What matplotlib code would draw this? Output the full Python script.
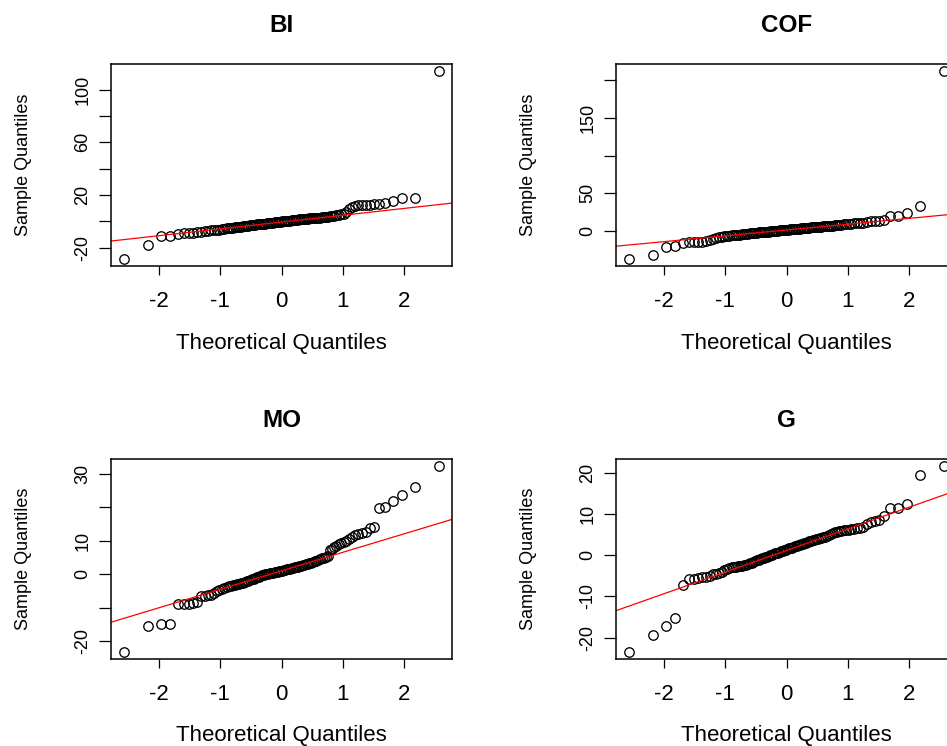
import numpy as np
import matplotlib
matplotlib.use("Agg")
import matplotlib.pyplot as plt
from statistics import NormalDist

plt.rcParams['font.family'] = ['Liberation Sans', 'DejaVu Sans']

# sorted sample values (100 obs each)
BI = [-28.1, -17.5, -10.9, -10.9, -9.3, -9.0, -8.7, -8.4, -8.0, -7.7,
      -7.4, -7.1, -6.8, -6.6, -6.3, -6.1, -5.8, -5.6, -5.3, -5.1,
      -4.9, -4.7, -4.5, -4.3, -4.1, -3.9, -3.7, -3.5, -3.3, -3.1,
      -2.9, -2.8, -2.6, -2.5, -2.3, -2.2, -2.0, -1.9, -1.7, -1.6,
      -1.4, -1.3, -1.1, -1.0, -0.9, -0.7, -0.6, -0.4, -0.3, -0.2,
      0.0, 0.1, 0.3, 0.4, 0.5, 0.7, 0.8, 0.9, 1.1, 1.2,
      1.3, 1.5, 1.6, 1.8, 1.9, 2.0, 2.2, 2.3, 2.4, 2.5,
      2.6, 2.7, 2.8, 2.9, 3.0, 3.1, 3.3, 3.5, 3.8, 4.1,
      4.4, 4.7, 5.0, 5.3, 5.8, 7.0, 9.5, 11.3, 12.0, 12.3,
      12.4, 12.5, 12.7, 13.0, 13.4, 13.9, 15.7, 17.9, 18.1, 113.7]

COF = [-36.7, -32.3, -21.7, -19.5, -15.5, -15.3, -15.2, -15.0, -14.5, -13.8,
       -12.5, -11.0, -9.8, -8.8, -8.0, -7.4, -6.9, -6.5, -6.1, -5.8,
       -5.5, -5.2, -4.9, -4.6, -4.3, -4.0, -3.7, -3.4, -3.1, -2.8,
       -2.6, -2.4, -2.1, -1.9, -1.7, -1.5, -1.3, -1.1, -0.9, -0.7,
       -0.5, -0.3, -0.1, 0.1, 0.3, 0.5, 0.7, 0.9, 1.1, 1.3,
       1.5, 1.7, 1.9, 2.1, 2.3, 2.5, 2.7, 2.9, 3.1, 3.3,
       3.5, 3.7, 3.9, 4.1, 4.3, 4.5, 4.7, 4.9, 5.1, 5.3,
       5.5, 5.7, 5.9, 6.1, 6.3, 6.5, 6.8, 7.1, 7.4, 7.7,
       8.0, 8.3, 8.6, 8.9, 9.2, 9.5, 9.8, 10.2, 10.6, 11.0,
       11.5, 12.5, 13.5, 13.7, 13.9, 19.9, 20.1, 23.5, 32.7, 211.5]

MO = [-23.2, -15.6, -14.9, -14.8, -9.0, -8.9, -8.8, -8.7, -8.4, -6.6,
      -6.5, -6.3, -6.1, -5.6, -5.0, -4.6, -4.3, -4.0, -3.8, -3.6,
      -3.4, -3.2, -3.1, -2.9, -2.8, -2.7, -2.5, -2.3, -2.1, -1.9,
      -1.7, -1.5, -1.3, -1.1, -0.9, -0.7, -0.5, -0.3, -0.1, 0.0,
      0.1, 0.2, 0.3, 0.4, 0.5, 0.6, 0.7, 0.8, 0.9, 1.0,
      1.1, 1.2, 1.3, 1.5, 1.6, 1.7, 1.8, 2.0, 2.1, 2.2,
      2.3, 2.5, 2.6, 2.7, 2.9, 3.0, 3.2, 3.3, 3.5, 3.7,
      3.9, 4.1, 4.3, 4.5, 4.7, 4.9, 5.1, 5.4, 7.3, 7.6,
      8.0, 8.4, 8.9, 9.3, 9.6, 9.9, 10.5, 11.2, 11.6, 12.1,
      12.3, 12.6, 13.9, 14.1, 19.8, 20.2, 22.0, 23.6, 26.1, 32.3]

G = [-23.4, -19.3, -17.3, -15.3, -7.3, -5.8, -5.7, -5.6, -5.4, -5.2,
     -5.0, -4.7, -4.5, -4.3, -4.0, -3.6, -3.3, -3.1, -3.0, -2.9,
     -2.8, -2.7, -2.6, -2.55, -2.5, -2.4, -2.2, -2.0, -1.8, -1.6,
     -1.4, -1.3, -1.1, -1.0, -0.8, -0.7, -0.5, -0.4, -0.2, -0.1,
     0.1, 0.2, 0.4, 0.5, 0.6, 0.8, 0.9, 1.0, 1.2, 1.3,
     1.4, 1.6, 1.7, 1.8, 2.0, 2.1, 2.2, 2.4, 2.5, 2.6,
     2.8, 2.9, 3.0, 3.2, 3.3, 3.4, 3.6, 3.7, 3.8, 4.0,
     4.1, 4.2, 4.4, 4.5, 4.6, 4.8, 5.0, 5.3, 5.5, 5.7,
     5.8, 5.9, 6.0, 6.1, 6.2, 6.3, 6.4, 6.5, 6.6, 6.8,
     7.5, 8.0, 8.2, 8.6, 9.5, 11.4, 11.5, 12.5, 19.4, 21.5]

titles = ['BI', 'COF', 'MO', 'G']
series = [BI, COF, MO, G]
xticks = [-2, -1, 0, 1, 2]
yticks = [[-20, 0, 20, 40, 60, 80, 100],
          [0, 50, 100, 150, 200],
          [-20, -10, 0, 10, 20, 30],
          [-20, -10, 0, 10, 20]]
# R drops the labels that would overlap
ylabels = [['-20', '', '20', '', '60', '', '100'],
           ['0', '50', '', '150', ''],
           ['-20', '', '0', '10', '', '30'],
           ['-20', '-10', '0', '10', '20']]

W, H = 947, 746
fig = plt.figure(figsize=(W / 100, H / 100), dpi=100)

# box positions in pixels: left, top, right, bottom
boxes = [(111, 64, 452, 266), (616, 64, 957, 266),
         (111, 459, 452, 659), (616, 459, 957, 659)]

nd = NormalDist()

for k in range(4):
    l, t, r, b = boxes[k]
    ax = fig.add_axes([l / W, 1 - b / H, (r - l) / W, (b - t) / H])
    y = np.sort(np.array(series[k]))
    n = len(y)
    x = np.array([nd.inv_cdf((i - 0.5) / n) for i in range(1, n + 1)])

    ax.plot(x, y, 'o', mfc='none', mec='black', ms=6.8, mew=0.95, ls='none')

    # qqline: through the quartiles
    qy = np.quantile(y, [0.25, 0.75])
    qx = [nd.inv_cdf(0.25), nd.inv_cdf(0.75)]
    slope = (qy[1] - qy[0]) / (qx[1] - qx[0])
    ax.axline((qx[0], qy[0]), slope=slope, color='red', lw=0.9)

    dx = 0.04 * (x.max() - x.min())
    dy = 0.04 * (y.max() - y.min())
    ax.set_xlim(x.min() - dx, x.max() + dx)
    ax.set_ylim(y.min() - dy, y.max() + dy)

    ax.set_xticks(xticks)
    ax.set_xticklabels([str(v) for v in xticks])
    ax.set_yticks(yticks[k])
    ax.set_yticklabels(ylabels[k], rotation=90, va='center')
    ax.tick_params(axis='x', direction='out', length=6.5, width=0.9,
                   labelsize=16, pad=11.5)
    ax.tick_params(axis='y', direction='out', length=8.5, width=0.9,
                   labelsize=13, pad=5.5)
    for s in ax.spines.values():
        s.set_linewidth(1.1)

    cx = (l + r) / 2
    cy = (t + b) / 2
    fig.text(cx / W, 1 - (t - 39) / H, titles[k], ha='center', va='center',
             fontsize=17.5, fontweight='bold')
    fig.text(cx / W, 1 - (b + 77) / H, 'Theoretical Quantiles',
             ha='center', va='center', fontsize=16)
    fig.text((l - 88) / W, 1 - cy / H, 'Sample Quantiles', ha='center',
             va='center', rotation=90, fontsize=13)

fig.savefig('out.png', dpi=100)
